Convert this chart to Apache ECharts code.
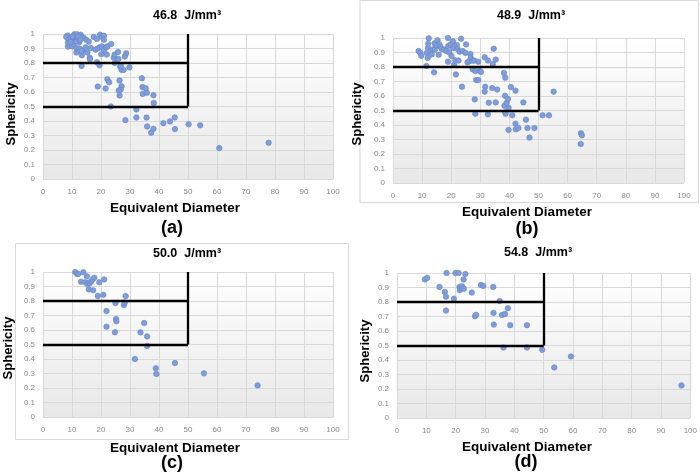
<!DOCTYPE html>
<html><head><meta charset="utf-8">
<script src="https://cdn.jsdelivr.net/npm/echarts/dist/echarts.min.js"></script>
<style>html,body{margin:0;padding:0;background:#fff}#c{width:700px;height:473px}</style>
</head><body><div id="c"></div>
<script>
// ---- data ----
const panelTitles = ['46.8  J/mm\u00b3', '48.9  J/mm\u00b3', '50.0  J/mm\u00b3', '54.8  J/mm\u00b3'];
const panelLetters = ['(a)', '(b)', '(c)', '(d)'];
const xAxisName = 'Equivalent Diameter';
const yAxisName = 'Sphericity';
// threshold lines: [x1,y1,x2,y2]
const thresholdLines = [[0, 0.8, 50, 0.8], [0, 0.5, 50, 0.5], [50, 0.5, 50, 1.0]];

const diamA = [50.2,54.2,60.8,77.8,41.5,43.8,45.4,45.5,35.7,35.9,37.3,38.1,28.4,32.2,32.2,23.4,38.2,38.1,34.1,34.3,35.4,34.4,35.8,18.9,21.6,22.2,22.8,26.4,27.1,26.8,26.1,26.4,
  13.3,19.5,18.6,24.7,26.6,27.1,27.8,29.8,26.8,
  13.4,16.1,16.2,20.1,22.0,24.4,26.0,24.7,25.9,28.7,28.2,11.5,12.5,15.3,
  8.6,10.0,11.5,12.6,13.8,14.7,16.5,18.1,18.9,19.6,20.3,21.0,21.8,22.2,23.5,13.3,
  8.5,8.0,8.8,8.6,9.7,10.3,10.8,11.1,10.6,11.7,11.9,12.5,13.0,13.4,14.0,14.9,15.8,17.5,18.6,19.7,20.3,21.0,21.0,11.4,10.2,12.1,12.8,9.6];
const sphA = [0.378,0.37,0.213,0.25,0.385,0.397,0.424,0.344,0.424,0.362,0.319,0.346,0.406,0.48,0.424,0.50,0.525,0.578,0.695,0.635,0.626,0.587,0.594,0.638,0.624,0.688,0.667,0.679,0.64,0.617,0.61,0.576,
  0.78,0.784,0.805,0.80,0.775,0.752,0.752,0.77,0.78,
  0.853,0.837,0.826,0.86,0.858,0.837,0.828,0.858,0.876,0.867,0.844,0.872,0.885,0.872,
  0.913,0.915,0.904,0.9,0.888,0.908,0.904,0.892,0.901,0.908,0.915,0.89,0.908,0.915,0.931,0.883,
  0.99,0.98,0.96,0.94,0.975,0.956,0.998,0.975,0.933,0.998,0.96,0.943,0.995,0.98,0.975,0.96,0.947,0.98,0.966,0.995,0.98,0.988,0.961,0.95,0.983,0.979,0.96,0.945];

const diamB = [8.8,9.4,9.7,11.5,11.9,11.6,12.0,12.3,12.1,12.8,13.3,13.7,14.1,14.4,14.3,14.9,15.3,15.7,15.9,16.3,16.8,17.6,18.3,18.9,18.9,19.0,19.3,19.8,20.1,20.6,20.7,21.0,21.4,21.6,21.9,22.2,22.5,22.9,23.4,23.7,24.0,24.9,25.1,25.6,26.3,26.6,26.7,27.2,27.4,27.9,28.1,28.3,28.3,28.6,29.3,29.3,29.8,30.2,31.5,31.7,31.5,32.6,32.6,32.9,34.1,34.3,34.6,35.3,35.3,35.8,38.1,38.3,38.5,38.6,38.6,38.7,39.0,39.5,39.7,39.7,40.5,41.0,42.1,42.1,42.2,43.1,44.8,45.7,46.2,46.9,48.6,51.4,53.6,55.2,64.6,64.9,64.5];
const sphB = [0.91,0.897,0.878,0.807,0.862,0.897,0.931,0.998,0.961,0.908,0.887,0.922,0.763,0.92,0.963,0.949,0.984,0.885,0.956,0.94,0.924,0.92,0.91,1.0,0.837,0.945,0.901,0.956,0.876,0.977,0.929,0.814,0.846,0.749,0.952,0.924,0.844,0.906,0.995,0.664,0.91,0.897,0.956,0.832,0.841,0.89,0.862,0.844,0.784,0.844,0.577,0.772,0.478,0.71,0.71,0.837,0.772,0.766,0.63,0.664,0.867,0.844,0.474,0.554,0.655,0.821,0.926,0.851,0.556,0.644,0.759,0.533,0.602,0.726,0.487,0.478,0.552,0.579,0.519,0.366,0.662,0.467,0.637,0.409,0.37,0.379,0.556,0.437,0.379,0.313,0.379,0.467,0.467,0.63,0.343,0.329,0.269];

const diamC = [11.1,11.8,12.2,13.9,13.1,14.6,15.1,15.3,16.1,16.6,17.1,17.7,15.8,17.3,19.4,21.1,18.9,20.8,25.0,27.9,28.2,28.5,21.9,25.2,25.3,21.9,24.8,34.9,33.6,35.9,35.9,31.7,45.5,38.9,39.1,55.5,74.0];
const sphC = [1.0,0.986,0.986,0.998,0.933,0.929,0.97,0.917,0.922,0.936,0.949,0.961,0.88,0.874,0.929,0.949,0.834,0.843,0.786,0.772,0.789,0.834,0.731,0.676,0.66,0.623,0.584,0.648,0.584,0.556,0.49,0.4,0.372,0.336,0.297,0.301,0.218];

const diamD = [9.5,10.3,14.5,16.3,16.7,16.7,16.9,19.4,19.9,21.0,21.3,21.4,21.8,22.2,22.7,22.8,23.3,25.5,26.6,27.0,28.6,29.4,32.8,32.9,33.0,35.0,35.8,36.8,37.8,38.6,36.3,44.3,44.3,49.5,53.6,59.3,97.0];
const sphD = [0.956,0.966,0.904,0.869,0.837,0.741,1.0,0.823,1.0,1.0,0.904,0.881,0.897,0.908,0.956,0.892,0.993,0.865,0.702,0.711,0.917,0.911,0.904,0.725,0.644,0.807,0.711,0.718,0.757,0.64,0.486,0.486,0.64,0.47,0.349,0.424,0.225];

const xTicks = {min: 0, max: 100, interval: 10};
const yTicks = {min: 0, max: 1, interval: 0.1};

// ---- layout ----
const grids = [
  {left: 43, top: 34, width: 290, height: 145},
  {left: 393, top: 38, width: 291, height: 145},
  {left: 43, top: 272, width: 290, height: 145},
  {left: 397, top: 273, width: 294, height: 145}
];
const titlePos = [[187,16],[531,16],[187,254],[538,253]];
const xNamePos = [[175,208],[527,212],[175,448],[527,447]];
const letterPos = [[172,228],[527,229],[172,463],[526,462]];
const yNamePos = [[11,114],[357,114],[8,348],[365,351]];

const seriesData = [[diamA,sphA],[diamB,sphB],[diamC,sphC],[diamD,sphD]];

const chart = echarts.init(document.getElementById('c'), null, {renderer: 'canvas'});
const font = '"Liberation Sans", Arial, sans-serif';
const gridBg = {type: 'linear', x: 0, y: 0, x2: 0, y2: 1,
  colorStops: [{offset: 0, color: '#ffffff'}, {offset: 1, color: '#e8e8e8'}]};

const option = {
  animation: false,
  grid: grids.map(g => Object.assign({show: true, backgroundColor: gridBg, borderWidth: 0, containLabel: false}, g)),
  xAxis: grids.map((g, i) => ({
    type: 'value', gridIndex: i, min: xTicks.min, max: xTicks.max, interval: xTicks.interval,
    axisLine: {show: false}, axisTick: {show: false},
    splitLine: {show: true, lineStyle: {color: '#d9d9d9', width: 1}},
    axisLabel: {color: '#8a8a8a', fontSize: 8, fontFamily: font, margin: 9}
  })),
  yAxis: grids.map((g, i) => ({
    type: 'value', gridIndex: i, min: yTicks.min, max: yTicks.max, interval: yTicks.interval,
    axisLine: {show: false}, axisTick: {show: false},
    splitLine: {show: true, lineStyle: {color: '#d9d9d9', width: 1}},
    axisLabel: {color: '#8a8a8a', fontSize: 8, fontFamily: font, margin: 8}
  })),
  series: seriesData.map((d, i) => ({
    type: 'scatter', xAxisIndex: i, yAxisIndex: i,
    data: d[0].map((x, k) => [x, d[1][k]]),
    symbolSize: 5.5,
    itemStyle: {color: '#7f9dd8', borderColor: '#6685c9', borderWidth: 0.6, opacity: 1},
    clip: false,
    markLine: {
      silent: true, symbol: 'none', animation: false,
      label: {show: false},
      lineStyle: {color: '#000', width: 2.3, type: 'solid'},
      emphasis: {disabled: true},
      data: thresholdLines.map(l => [{coord: [l[0], l[1]]}, {coord: [l[2], l[3]]}])
    }
  })),
  graphic: [
    {type: 'rect', shape: {x: 360, y: 0.5, width: 338.5, height: 202}, style: {fill: 'none', stroke: '#d9d9d9', lineWidth: 1}, silent: true},
    {type: 'rect', shape: {x: 15.5, y: 243.5, width: 333, height: 196}, style: {fill: 'none', stroke: '#d9d9d9', lineWidth: 1}, silent: true}
  ].concat(
    titlePos.map((p, i) => ({type: 'text', x: p[0], y: p[1], silent: true,
      style: {text: panelTitles[i], fontSize: 12.5, fontWeight: 'bold', fontFamily: font, fill: '#000', align: 'center', verticalAlign: 'middle'}})),
    xNamePos.map((p) => ({type: 'text', x: p[0], y: p[1], silent: true,
      style: {text: xAxisName, fontSize: 13.5, fontWeight: 'bold', fontFamily: font, fill: '#000', align: 'center', verticalAlign: 'middle'}})),
    letterPos.map((p, i) => ({type: 'text', x: p[0], y: p[1], silent: true,
      style: {text: panelLetters[i], fontSize: 18, fontWeight: 'bold', fontFamily: font, fill: '#000', align: 'center', verticalAlign: 'middle'}})),
    yNamePos.map((p) => ({type: 'text', x: p[0], y: p[1], rotation: Math.PI / 2, silent: true,
      style: {text: yAxisName, fontSize: 13, fontWeight: 'bold', fontFamily: font, fill: '#000', align: 'center', verticalAlign: 'middle'}}))
  )
};
chart.setOption(option);
</script>
</body></html>
